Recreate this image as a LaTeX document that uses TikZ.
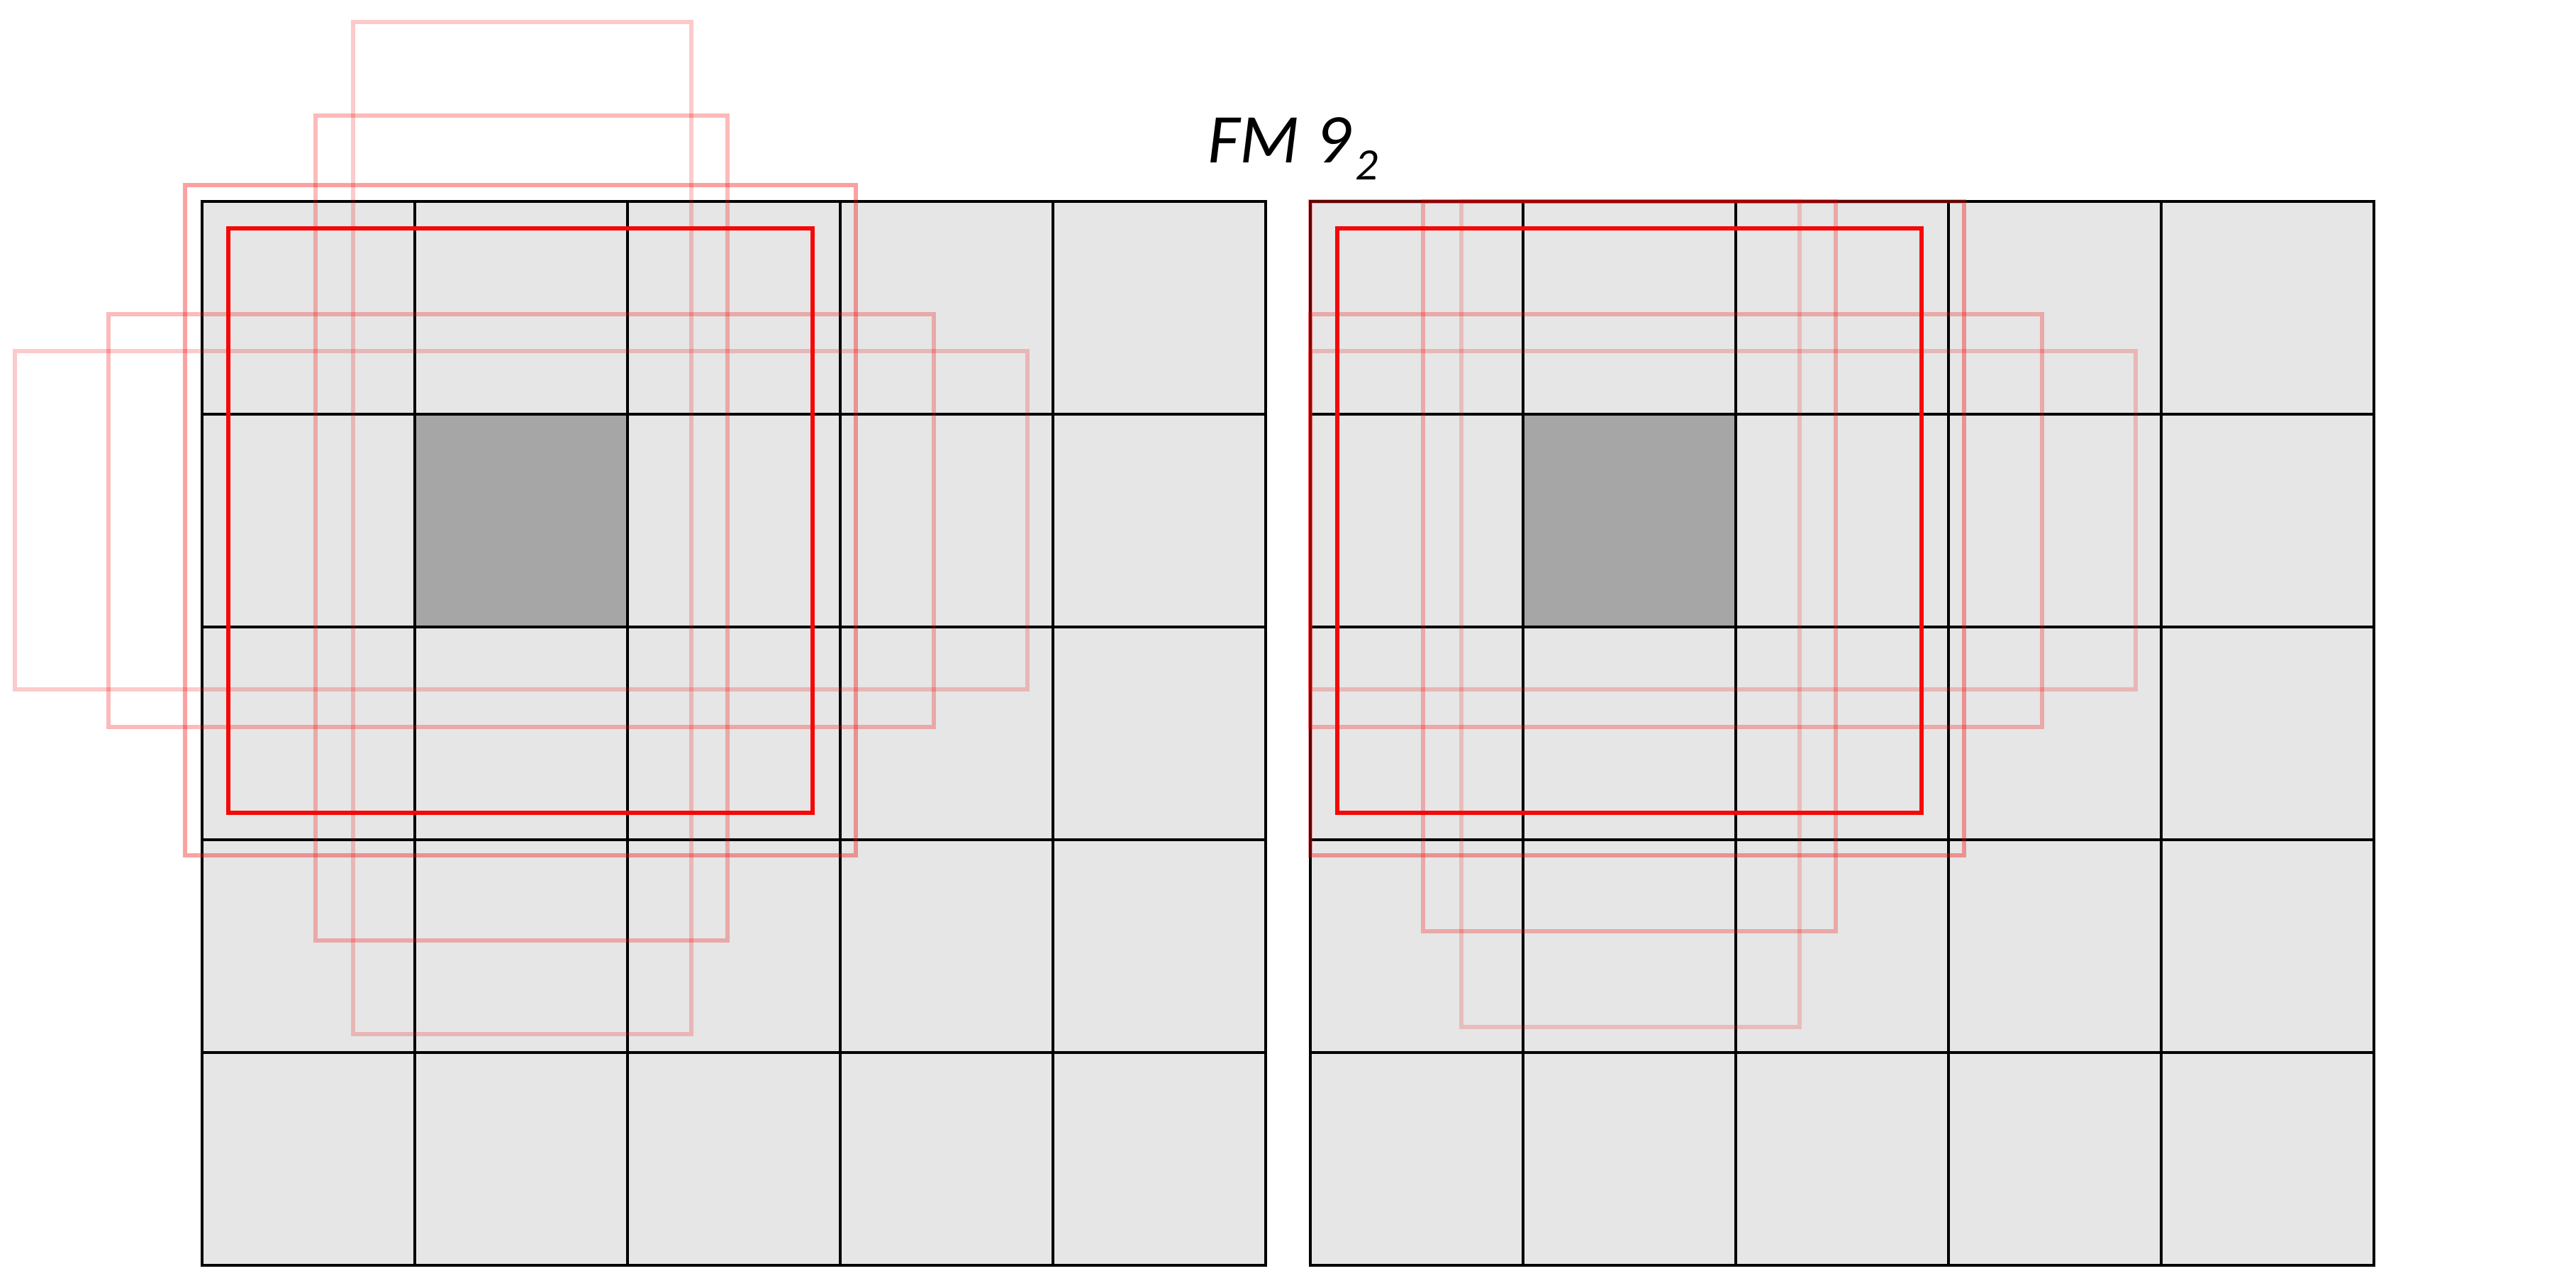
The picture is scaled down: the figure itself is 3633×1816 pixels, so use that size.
\documentclass[tikz,border=0pt]{standalone}
\usepackage{fontspec}
\setmainfont{Carlito}
\definecolor{cellgray}{RGB}{230,230,230}
\definecolor{darkgray}{RGB}{166,166,166}
\definecolor{boxred}{RGB}{245,8,8}
\begin{document}
\begin{tikzpicture}[x=0.01cm,y=-0.01cm,
  gridline/.style={line width=0.04cm, black},
  mainbox/.style={draw=boxred, line width=0.057cm},
  bigbox/.style={draw=boxred, draw opacity=0.38, line width=0.057cm},
  midbox/.style={draw=boxred, draw opacity=0.28, line width=0.057cm},
  thinbox/.style={draw=boxred, draw opacity=0.21, line width=0.057cm},
  thinboxr/.style={draw=boxred, draw opacity=0.19, line width=0.057cm},
  titletext/.style={font=\fontsize{28}{32}\selectfont\itshape, inner sep=0pt, anchor=base west}]
\useasboundingbox (0,0) rectangle (3633,1816);
\fill[white] (0,0) rectangle (3633,1816);

% ---------- left feature map ----------
\fill[cellgray] (285,284) rectangle (1785,1784);
\fill[darkgray] (585,584) rectangle (885,884);
\foreach \i in {1,...,4} {
  \draw[gridline] (285+\i*300,284) -- (285+\i*300,1784);
  \draw[gridline] (285,284+\i*300) -- (1785,284+\i*300);
}
\draw[gridline] (285,284) rectangle (1785,1784);

\draw[thinbox] (498,31) rectangle (975,1458);
\draw[thinbox] (21,495) rectangle (1449,972);
\draw[midbox] (445,163) rectangle (1026,1326);
\draw[midbox] (153,443) rectangle (1317,1025);
\draw[bigbox] (261,261) rectangle (1207,1206);
\draw[mainbox] (322,322) rectangle (1146,1146);

% ---------- right feature map ----------
\fill[cellgray] (1848,284) rectangle (3348,1784);
\fill[darkgray] (2148,584) rectangle (2448,884);
\foreach \i in {1,...,4} {
  \draw[gridline] (1848+\i*300,284) -- (1848+\i*300,1784);
  \draw[gridline] (1848,284+\i*300) -- (3348,284+\i*300);
}
\draw[gridline] (1848,284) rectangle (3348,1784);

\draw[thinboxr] (2061,284) rectangle (2538,1448);
\draw[thinbox] (1848,495) rectangle (3012,972);
\draw[midbox] (2007,284) rectangle (2589,1313);
\draw[midbox] (1848,443) rectangle (2880,1025);
\draw[bigbox] (1848,284) rectangle (2770,1206);
\draw[mainbox] (1886,322) rectangle (2710,1146);

% ---------- title ----------
\node[titletext] (title) at (1703,230) {FM 9\hspace{0.06cm}\raisebox{-0.23cm}{\fontsize{18}{20}\selectfont 2}};
\end{tikzpicture}
\end{document}
